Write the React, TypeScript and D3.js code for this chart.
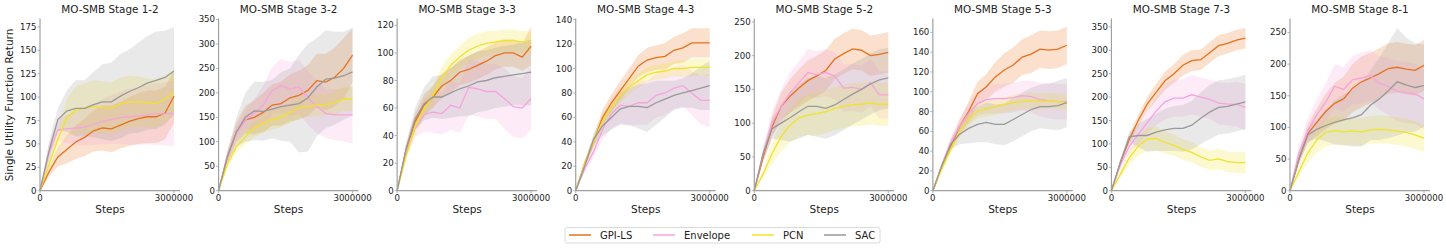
import * as d3 from 'd3';

const steps = [0, 200000, 400000, 600000, 800000, 1000000, 1200000, 1400000, 1600000, 1800000, 2000000, 2200000, 2400000, 2600000, 2800000, 3000000];
const stages = ['MO-SMB Stage 1-2', 'MO-SMB Stage 3-2', 'MO-SMB Stage 3-3', 'MO-SMB Stage 4-3', 'MO-SMB Stage 5-2', 'MO-SMB Stage 5-3', 'MO-SMB Stage 7-3', 'MO-SMB Stage 8-1'];
const yMax = [184, 352, 125, 141, 255, 174, 368, 272];
const yTickStep = [25, 50, 20, 20, 50, 20, 50, 50];
const yTickTop = [175, 350, 120, 140, 250, 160, 350, 250];
const xTicks = [0, 3000000];

const algorithms = ['GPI-LS', 'Envelope', 'PCN', 'SAC'];
const colors = ['#e8711c', '#f7a3df', '#f2e22a', '#999999'];

const gpiLsMean = [
  [0, 20, 36, 44, 52, 57, 64, 67, 66, 70, 74, 77, 79, 79, 83, 101],
  [0, 70, 120, 145, 150, 160, 175, 178, 190, 195, 205, 225, 222, 232, 250, 277],
  [0, 30, 50, 62, 68, 76, 80, 86, 88, 91, 94, 98, 100, 100, 97, 105],
  [0, 22, 40, 60, 72, 82, 92, 102, 107, 109, 110, 115, 117, 121, 121, 121],
  [0, 50, 95, 125, 140, 152, 163, 170, 178, 195, 203, 210, 208, 200, 202, 205],
  [0, 25, 45, 65, 80, 98, 105, 115, 122, 127, 135, 138, 143, 142, 143, 147],
  [0, 60, 110, 150, 185, 210, 235, 250, 268, 278, 280, 295, 310, 315, 322, 326],
  [0, 50, 90, 108, 125, 138, 145, 162, 172, 178, 185, 193, 195, 192, 190, 198],
];
const gpiLsStd = [
  [0, 5, 10, 15, 18, 20, 22, 24, 25, 25, 26, 27, 28, 28, 28, 28],
  [0, 12, 20, 28, 35, 40, 42, 45, 48, 50, 52, 55, 58, 60, 62, 55],
  [0, 4, 6, 8, 8, 9, 9, 9, 10, 10, 10, 10, 10, 10, 10, 14],
  [0, 3, 4, 6, 7, 8, 8, 9, 10, 10, 11, 11, 12, 12, 12, 12],
  [0, 8, 15, 20, 25, 28, 30, 30, 30, 30, 30, 30, 30, 30, 30, 30],
  [0, 3, 5, 7, 10, 12, 13, 15, 17, 18, 18, 19, 19, 19, 19, 19],
  [0, 6, 10, 12, 15, 18, 20, 20, 22, 22, 22, 22, 22, 22, 22, 22],
  [0, 8, 15, 22, 28, 32, 35, 38, 40, 40, 40, 40, 40, 40, 40, 40],
];

const envelopeMean = [
  [0, 40, 65, 66, 67, 68, 71, 74, 76, 78, 79, 80, 81, 82, 82, 83],
  [0, 72, 118, 145, 158, 175, 205, 215, 208, 212, 190, 172, 158, 155, 155, 155],
  [0, 28, 45, 55, 57, 56, 62, 60, 75, 74, 72, 72, 67, 61, 60, 67],
  [0, 18, 32, 50, 63, 70, 69, 72, 72, 78, 80, 84, 86, 80, 74, 74],
  [0, 55, 100, 125, 145, 160, 175, 172, 175, 170, 152, 153, 150, 160, 142, 142],
  [0, 25, 48, 65, 78, 88, 92, 93, 93, 94, 96, 95, 92, 91, 90, 90],
  [0, 55, 95, 120, 145, 170, 190, 198, 198, 205, 200, 195, 187, 185, 185, 178],
  [0, 60, 95, 120, 140, 165, 160, 175, 178, 182, 170, 165, 157, 155, 153, 145],
];
const envelopeStd = [
  [0, 10, 12, 15, 18, 20, 22, 24, 26, 28, 30, 31, 32, 33, 34, 35],
  [0, 10, 15, 20, 30, 40, 48, 55, 55, 55, 55, 55, 50, 52, 55, 58],
  [0, 4, 6, 12, 15, 15, 18, 18, 20, 20, 20, 20, 22, 22, 22, 23],
  [0, 3, 5, 8, 12, 15, 16, 18, 18, 18, 18, 17, 17, 18, 20, 22],
  [0, 10, 18, 25, 30, 32, 35, 35, 35, 35, 35, 35, 35, 35, 35, 35],
  [0, 3, 6, 8, 10, 12, 14, 15, 15, 15, 15, 16, 17, 18, 18, 18],
  [0, 8, 15, 20, 25, 30, 38, 40, 40, 42, 42, 42, 45, 45, 48, 50],
  [0, 12, 20, 25, 30, 35, 35, 38, 40, 40, 42, 45, 48, 48, 48, 48],
];

const pcnMean = [
  [0, 28, 55, 78, 86, 88, 90, 89, 88, 93, 95, 95, 94, 93, 98, 105],
  [0, 55, 90, 110, 128, 138, 145, 150, 160, 170, 172, 175, 175, 180, 188, 188],
  [0, 25, 46, 59, 69, 82, 91, 97, 102, 105, 107, 108, 109, 109, 108, 108],
  [0, 22, 40, 57, 68, 78, 85, 90, 95, 97, 98, 100, 100, 101, 101, 101],
  [0, 25, 55, 80, 97, 108, 112, 114, 117, 122, 125, 127, 128, 130, 128, 128],
  [0, 22, 42, 60, 72, 80, 83, 85, 87, 89, 90, 91, 90, 91, 90, 89],
  [0, 35, 70, 95, 110, 112, 103, 97, 88, 82, 72, 65, 68, 62, 60, 60],
  [0, 30, 60, 80, 92, 95, 93, 94, 93, 96, 97, 96, 94, 92, 88, 83],
];
const pcnStd = [
  [0, 5, 12, 20, 25, 27, 28, 28, 28, 28, 28, 27, 26, 26, 25, 24],
  [0, 8, 12, 15, 18, 20, 20, 20, 22, 22, 22, 22, 22, 24, 25, 25],
  [0, 3, 5, 6, 7, 8, 8, 8, 9, 9, 9, 8, 8, 8, 8, 8],
  [0, 3, 4, 5, 5, 6, 6, 6, 6, 6, 6, 6, 7, 7, 7, 7],
  [0, 6, 15, 22, 25, 28, 30, 32, 32, 32, 32, 32, 32, 32, 32, 32],
  [0, 3, 5, 6, 7, 7, 8, 8, 8, 8, 8, 8, 8, 8, 8, 8],
  [0, 8, 15, 20, 25, 25, 24, 23, 22, 22, 21, 21, 22, 22, 22, 23],
  [0, 8, 15, 20, 22, 22, 22, 22, 22, 22, 22, 22, 22, 22, 22, 22],
];

const sacMean = [
  [0, 42, 76, 85, 88, 88, 92, 95, 95, 101, 106, 110, 115, 118, 121, 128],
  [0, 70, 120, 150, 163, 162, 167, 172, 175, 178, 190, 212, 228, 230, 235, 243],
  [0, 30, 52, 63, 68, 68, 71, 74, 76, 79, 80, 82, 83, 84, 85, 86],
  [0, 20, 42, 53, 60, 67, 69, 69, 68, 72, 75, 78, 80, 82, 84, 86],
  [0, 55, 92, 100, 108, 117, 125, 125, 122, 127, 135, 143, 150, 158, 164, 167],
  [0, 25, 47, 57, 63, 67, 69, 67, 67, 72, 77, 82, 85, 85, 86, 89],
  [0, 60, 115, 118, 118, 125, 130, 133, 133, 140, 155, 168, 178, 180, 185, 190],
  [0, 50, 88, 97, 103, 108, 112, 115, 120, 135, 145, 158, 172, 167, 163, 166],
];
const sacStd = [
  [0, 10, 12, 22, 30, 30, 35, 40, 42, 45, 45, 48, 50, 52, 50, 47],
  [0, 10, 30, 50, 60, 60, 60, 70, 75, 100, 110, 100, 100, 95, 90, 90],
  [0, 4, 8, 12, 15, 16, 18, 20, 22, 22, 22, 22, 22, 22, 23, 24],
  [0, 3, 5, 8, 10, 13, 15, 18, 20, 18, 15, 12, 12, 14, 18, 20],
  [0, 8, 15, 25, 35, 40, 42, 45, 45, 45, 45, 45, 45, 45, 45, 45],
  [0, 3, 5, 10, 15, 18, 20, 20, 21, 22, 22, 22, 22, 23, 25, 25],
  [0, 8, 10, 25, 35, 40, 45, 48, 50, 52, 55, 58, 58, 58, 58, 58],
  [0, 8, 10, 15, 25, 35, 40, 45, 50, 55, 65, 75, 85, 75, 70, 65],
];

const means = [gpiLsMean, envelopeMean, pcnMean, sacMean];
const stds = [gpiLsStd, envelopeStd, pcnStd, sacStd];

const W = 1446;
const H = 249;
const FONT = 'DejaVu Sans, sans-serif';
const panelLeft = 40;
const panelGap = 178.57;
const axisW = 140;
const plotBottom = 190.7;
const plotTop = 18.5;
const xMaxDomain = 3000000 * 140 / 134;

type Pt = { x: number; m: number; s: number };

function Panel({ idx }: { idx: number }) {
  const x0 = panelLeft + idx * panelGap;
  const x = d3.scaleLinear().domain([0, xMaxDomain]).range([x0, x0 + axisW]);
  const y = d3.scaleLinear().domain([0, yMax[idx]]).range([plotBottom, plotTop]);
  const yTicks = d3.range(0, yTickTop[idx] + 0.001, yTickStep[idx]);

  const line = d3.line<Pt>().x((d) => x(d.x)).y((d) => y(d.m));
  const area = d3
    .area<Pt>()
    .x((d) => x(d.x))
    .y0((d) => y(Math.max(0, d.m - d.s)))
    .y1((d) => y(d.m + d.s));

  const series = algorithms.map((_, a) =>
    steps.map((s, i) => ({ x: s, m: means[a][idx][i], s: stds[a][idx][i] }))
  );
  const cx = x0 + axisW / 2;

  return (
    <g>
      {series.map((pts, a) => (
        <path key={'b' + a} d={area(pts) || ''} fill={colors[a]} fillOpacity={0.22} stroke="none" />
      ))}
      {series.map((pts, a) => (
        <path key={'l' + a} d={line(pts) || ''} fill="none" stroke={colors[a]} strokeWidth={1.3} />
      ))}
      <line x1={x0} x2={x0} y1={plotTop} y2={plotBottom} stroke="#a0a0a0" strokeWidth={1.2} />
      <line x1={x0} x2={x0 + axisW} y1={plotBottom} y2={plotBottom} stroke="#a0a0a0" strokeWidth={1.2} />
      {yTicks.map((t) => (
        <g key={t}>
          <line x1={x0 - 2.5} x2={x0} y1={y(t)} y2={y(t)} stroke="#a0a0a0" strokeWidth={0.8} />
          <text x={x0 - 3.5} y={y(t)} dy="0.35em" textAnchor="end" fontSize={8.6} fontFamily={FONT} fill="#222">
            {t}
          </text>
        </g>
      ))}
      {xTicks.map((t) => (
        <g key={t}>
          <line x1={x(t)} x2={x(t)} y1={plotBottom} y2={plotBottom + 2.5} stroke="#a0a0a0" strokeWidth={0.8} />
          <text x={x(t)} y={plotBottom + 10.5} textAnchor="middle" fontSize={8.6} fontFamily={FONT} fill="#222">
            {t}
          </text>
        </g>
      ))}
      <text x={cx} y={213} textAnchor="middle" fontSize={10.5} fontFamily={FONT} fill="#222">
        Steps
      </text>
      <text x={cx} y={12.5} textAnchor="middle" fontSize={10.4} fontFamily={FONT} fill="#222">
        {stages[idx]}
      </text>
    </g>
  );
}

const legendX = [569, 653, 752, 824];

export default function App() {
  return (
    <svg
      width={W}
      height={H}
      viewBox={`0 0 ${W} ${H}`}
      style={{ position: 'absolute', left: 0, top: 0, background: '#fff' }}
    >
      <rect width={W} height={H} fill="#fff" />
      {stages.map((_, i) => (
        <Panel key={i} idx={i} />
      ))}
      <text
        transform="translate(12.5,105) rotate(-90)"
        textAnchor="middle"
        fontSize={10.5}
        fontFamily={FONT}
        fill="#222"
      >
        Single Utility Function Return
      </text>
      <rect x={565} y={227.5} width={315} height={15.5} rx={2} fill="#fff" stroke="#d0d0d0" strokeWidth={0.8} />
      {algorithms.map((name, a) => (
        <g key={name}>
          <line x1={legendX[a]} x2={legendX[a] + 22} y1={235} y2={235} stroke={colors[a]} strokeWidth={1.5} />
          <text x={legendX[a] + 31} y={238.8} fontSize={10} fontFamily={FONT} fill="#222">
            {name}
          </text>
        </g>
      ))}
    </svg>
  );
}
